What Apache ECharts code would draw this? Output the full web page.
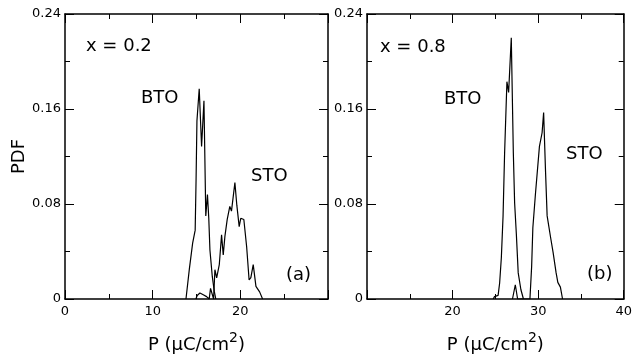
<!DOCTYPE html>
<html>
<head>
<meta charset="utf-8">
<script src="https://cdn.jsdelivr.net/npm/echarts@6/dist/echarts.min.js"></script>
<style>
html,body{margin:0;padding:0;background:#fff;}
#c{width:635px;height:359px;}
</style>
</head>
<body>
<div id="c"></div>
<script>
// Panel (a): x = 0.2
const btoA = [[13.8,0],[14.18,0.025],[14.56,0.047],[14.85,0.058],[14.95,0.1],[15.05,0.15],[15.31,0.177],[15.58,0.1285],[15.85,0.167],[16.06,0.07],[16.25,0.088],[16.4,0.068],[16.53,0.0415],[16.8,0.019],[17.03,0.0064],[17.2,0]];
const stoA = [[14.93,0],[15.08,0.003],[15.39,0.005],[15.77,0.0035],[16.15,0.002],[16.45,0],[16.6,0.009],[16.8,0.008],[16.95,0],[17.1,0.0247],[17.3,0.0177],[17.6,0.029],[17.86,0.054],[18.05,0.037],[18.24,0.0527],[18.5,0.0668],[18.8,0.078],[18.99,0.074],[19.38,0.098],[19.6,0.079],[19.87,0.061],[20.05,0.068],[20.4,0.067],[20.72,0.044],[21.0,0.016],[21.2,0.018],[21.47,0.029],[21.78,0.0106],[22.0,0.011],[22.2,0.006],[22.54,0]];
// Panel (b): x = 0.8
const btoB = [[24.75,0],[24.9,0.002],[25.1,0.001],[25.32,0.003],[25.5,0.0135],[25.7,0.035],[25.9,0.07],[26.08,0.123],[26.35,0.183],[26.55,0.174],[26.86,0.22],[27.1,0.123],[27.25,0.081],[27.45,0.055],[27.67,0.022],[27.98,0.008],[28.28,0]];
const stoB = [[27.0,0],[27.33,0.012],[27.6,0],[29.04,0],[29.24,0.0275],[29.38,0.06],[29.69,0.089],[30.15,0.1285],[30.46,0.14],[30.64,0.157],[30.85,0.11],[31.05,0.07],[31.45,0.052],[31.75,0.039],[32.1,0.022],[32.3,0.014],[32.6,0.01],[32.85,0]];
// Axis settings
const xRangeA = [0, 30];
const xRangeB = [10, 40];
const xInterval = 10;
const yRange = [0, 0.24];
const yInterval = 0.08;

const FONT = '"DejaVu Sans", sans-serif';
const chart = echarts.init(document.getElementById('c'), null, {renderer: 'canvas'});

function xAx(grid, range, pos, showLabel, hideMin, hideMax) {
  return {
    type: 'value', gridIndex: grid, position: pos, min: range[0], max: range[1], interval: xInterval,
    axisLine: {show: true, onZero: false, lineStyle: {color: '#000', width: 1.5}},
    axisTick: {show: true, inside: true, length: 9, lineStyle: {color: '#000', width: 1}},
    minorTick: {show: true, splitNumber: 2, length: 5, lineStyle: {color: '#000', width: 1}},
    splitLine: {show: false},
    axisLabel: {show: showLabel, color: '#000', fontSize: 13, fontFamily: FONT, margin: 6,
      showMinLabel: !hideMin, showMaxLabel: !hideMax},
    name: showLabel ? '{a|P (μC/cm}{s|2}{a|)}' : '',
    nameLocation: 'middle', nameGap: 32,
    nameTextStyle: {color: '#000', rich: {
      a: {fontSize: 18, fontFamily: FONT, color: '#000', lineHeight: 28},
      s: {fontSize: 14, fontFamily: FONT, color: '#000', lineHeight: 14, verticalAlign: 'top'}
    }}
  };
}
function yAx(grid, pos, showLabel, name) {
  return {
    type: 'value', gridIndex: grid, position: pos, min: yRange[0], max: yRange[1], interval: yInterval,
    axisLine: {show: true, onZero: false, lineStyle: {color: '#000', width: 1.5}},
    axisTick: {show: true, inside: true, length: 9, lineStyle: {color: '#000', width: 1}},
    minorTick: {show: true, splitNumber: 2, length: 5, lineStyle: {color: '#000', width: 1}},
    splitLine: {show: false},
    axisLabel: {show: showLabel, color: '#000', fontSize: 13, fontFamily: FONT, margin: 4,
      formatter: v => (v === 0 ? '0' : v.toFixed(2))},
    name: name || '', nameLocation: 'middle', nameGap: 30,
    nameTextStyle: {color: '#000', fontSize: 18, fontFamily: FONT}
  };
}
function lineSeries(data, xi, yi) {
  return {type: 'line', data: data, xAxisIndex: xi, yAxisIndex: yi, showSymbol: false, symbol: 'none',
    lineStyle: {color: '#000', width: 1.2}, animation: false, z: 3};
}
function txt(t, x, y) {
  return {type: 'text', x: x, y: y, style: {text: t, font: '18px ' + FONT, fill: '#000',
    textAlign: 'left', textVerticalAlign: 'middle', align: 'left', verticalAlign: 'middle'}};
}

chart.setOption({
  animation: false,
  backgroundColor: '#fff',
  grid: [
    {left: 65, top: 14, width: 263, height: 285},
    {left: 367, top: 14, width: 263, height: 285}
  ],
  xAxis: [
    xAx(0, xRangeA, 'bottom', true, false, true),
    xAx(0, xRangeA, 'top', false),
    xAx(1, xRangeB, 'bottom', true, true, false),
    xAx(1, xRangeB, 'top', false)
  ],
  yAxis: [
    yAx(0, 'left', true, 'PDF'),
    yAx(0, 'right', false),
    yAx(1, 'left', true),
    yAx(1, 'right', false)
  ],
  series: [
    lineSeries(btoA, 0, 0),
    lineSeries(stoA, 0, 0),
    lineSeries(btoB, 2, 2),
    lineSeries(stoB, 2, 2)
  ],
  graphic: [
    txt('x = 0.2', 86, 46),
    txt('BTO', 141, 98),
    txt('STO', 251, 176),
    txt('(a)', 286, 275),
    txt('x = 0.8', 380, 47),
    txt('BTO', 444, 99),
    txt('STO', 566, 154),
    txt('(b)', 587, 274)
  ]
});
</script>
</body>
</html>
